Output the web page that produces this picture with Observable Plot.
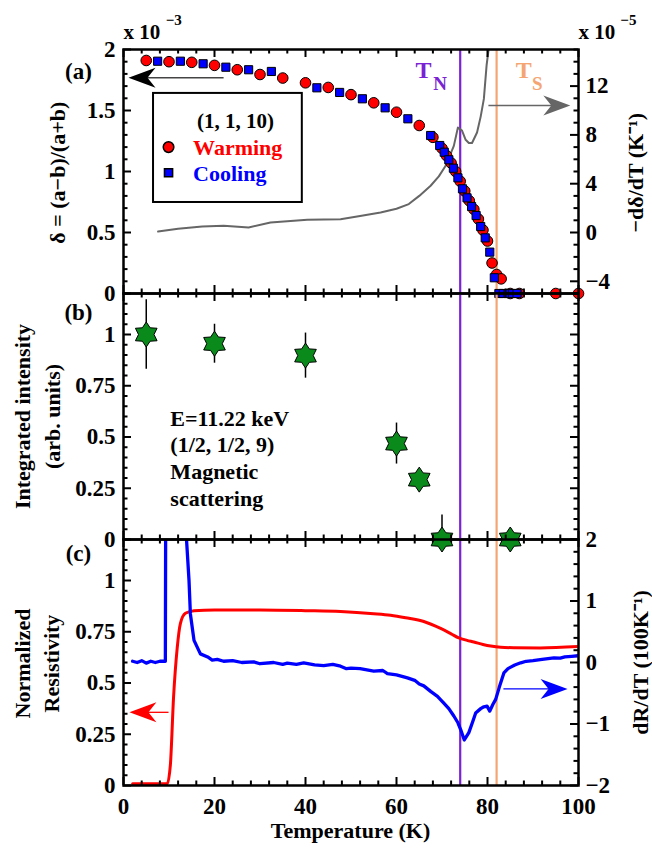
<!DOCTYPE html>
<html><head><meta charset="utf-8">
<script src="https://cdn.jsdelivr.net/npm/d3@7"></script>
<script src="https://cdn.jsdelivr.net/npm/@observablehq/plot@0.6"></script>
<style>
body{margin:0;background:#fff;}
#chart{position:relative;width:652px;height:848px;}
#chart svg{position:absolute;left:0;top:0;}
</style></head><body><div id="chart"></div>
<script>
// ---------- DATA ----------
// (a) orthorhombic distortion delta (x1e-3), warming and cooling
const warmT = [5,10,15,20,25,30,35,40,45,50,55,60,65,68,70,71,72,73,74,75,76,77,78,79,80,81,82,83,85,87,95,100];
const warmD = [1.91,1.90,1.895,1.87,1.834,1.795,1.766,1.727,1.689,1.63,1.563,1.486,1.377,1.28,1.19,1.13,1.07,1.0,0.92,0.84,0.76,0.69,0.61,0.52,0.43,0.25,0.156,0.12,0,0,0,0];
const coolT = [7.5,12.5,17.5,22.5,27.5,32.5,42.5,47.5,52.5,57.5,62.5,67.5,69.5,70.5,71.5,72.5,73.5,74.5,75.5,76.5,77.5,78.5,79.5,80.5,81.5,82.5,83.5,84.5,85.5,86.5];
const coolD = [1.904,1.904,1.883,1.855,1.834,1.82,1.686,1.648,1.596,1.522,1.432,1.295,1.213,1.158,1.096,1.027,0.948,0.858,0.784,0.713,0.639,0.549,0.456,0.339,0.129,0,0,0,0,0];
// (a) -d delta/dT (x1e-5 K^-1)
const derivT = [7.6,12,17.3,22,27.5,32.3,40.4,47.7,52,56.5,60,62.7,65,67.5,69.3,70.8,72.6,73.5,74.4,75.2,75.9,76.6,77.7,78.5,79.2,79.8,80.3,80.8];
const derivV = [0.08,0.3,0.5,0.55,0.41,0.82,1.04,1.09,1.35,1.64,1.95,2.33,3.0,3.83,4.6,5.47,7.1,8.6,8.35,7.6,7.34,7.34,8.2,9.5,10.95,13.7,15.2,18];
// (b) magnetic integrated intensity
const magT = [5,20,40,60,65,70,85];
const magI = [1.0,0.955,0.897,0.468,0.292,0,0];
const magErr = [0.17,0.095,0.11,0.1,0.03,0.12,0];
// (c) normalized resistivity
const resT = [2,9.6,10.3,11,11.8,12.5,13.6,15.5,20,30,40,47.7,55,58.7,62,66,69.7,72,73.7,75.5,77,79,80.7,82.9,86,91.6,100];
const resV = [0.008,0.008,0.1,0.43,0.67,0.79,0.84,0.853,0.856,0.856,0.853,0.849,0.838,0.83,0.818,0.8,0.766,0.74,0.72,0.708,0.7,0.688,0.68,0.674,0.672,0.671,0.678];
// (c) dR/dT (100 K^-1)
const dRT = [2,3,4,5,6,7,8,9.2,9.35,13.6,13.85,14.4,14.7,15.5,16.9,18.5,19.5,20.6,22,24,26,28.6,30,33,35,36,38,39.6,42,44,46,47.7,49,50,52,55,57,58,60,62.4,64,65,66,67.5,69,70.4,71.5,72.6,73.5,74.1,74.9,75.9,76.8,77.4,78.5,79.2,79.9,80.5,81.2,81.8,82.6,83.6,84.5,85,86,87.3,88.5,90,92,94.6,96,97,98.5,100];
const dRV = [0.02,0.0,0.03,-0.01,0.02,0.0,0.02,0.02,5,5,2.0,1.33,0.79,0.36,0.14,0.09,0.04,0.05,0.02,0.03,0.0,0.01,-0.02,0.0,-0.03,-0.01,-0.03,-0.005,-0.04,-0.05,-0.03,-0.06,-0.1,-0.09,-0.1,-0.14,-0.13,-0.18,-0.2,-0.25,-0.29,-0.35,-0.38,-0.47,-0.55,-0.66,-0.75,-0.87,-0.98,-1.09,-1.26,-1.14,-0.95,-0.82,-0.75,-0.72,-0.71,-0.79,-0.68,-0.6,-0.4,-0.17,-0.1,-0.08,-0.04,-0.005,0.02,0.03,0.05,0.075,0.07,0.09,0.1,0.11];
// transitions
const TN = 74, TS = 82;
// ticks
const xTicks = [0,20,40,60,80,100];
const yTicksA = [0,0.5,1,1.5,2];
const yTicksARight = [-4,0,4,8,12];
const yTicksB = [0,0.25,0.5,0.75,1];
const yTicksC = [0,0.25,0.5,0.75,1];
const yTicksCRight = [-2,-1,0,1,2];

// ---------- HELPERS ----------
const FONT = "'Liberation Serif','Times New Roman',serif";
const fmt = v => v < 0 ? "\u2212" + Math.abs(v) : String(v);
const steps = (a, n, s) => d3.range(n + 1).map(i => +(a + i * s).toFixed(6));
const notIn = (arr, majors) => arr.filter(v => !majors.some(m => Math.abs(m - v) < 1e-6));
// secondary-axis transforms
const aR = v => (v + 5) / 10;      // right axis (-5..15) -> left (0..2)
const cR = v => (v + 2) * 0.3;     // right axis (-2..2) -> left (0..1.2)

const hexagram = {draw(c, size) {
  const R = Math.sqrt(size / Math.PI), r = R * 0.62;
  for (let i = 0; i < 12; i++) {
    const a = i * Math.PI / 6 - Math.PI / 2, rad = i % 2 ? r : R;
    const x = rad * Math.cos(a), y = rad * Math.sin(a);
    i ? c.lineTo(x, y) : c.moveTo(x, y);
  }
  c.closePath();
}};
const headLeft = {draw(c, size) {
  const s = Math.sqrt(size / Math.PI);
  c.moveTo(0, 0); c.lineTo(2.7 * s, -s); c.lineTo(1.9 * s, 0); c.lineTo(2.7 * s, s); c.closePath();
}};
const headRight = {draw(c, size) {
  const s = Math.sqrt(size / Math.PI);
  c.moveTo(0, 0); c.lineTo(-2.7 * s, -s); c.lineTo(-1.9 * s, 0); c.lineTo(-2.7 * s, s); c.closePath();
}};

function frameTicks(H, W, xMaj, xMin, lMaj, lMin, rMaj, rMin) {
  const M = 8, m = 4.5, sw = 2;
  const id = d => d;
  return [
    Plot.tickX(xMaj, {x: id, insetTop: H - M, strokeWidth: sw}),
    Plot.tickX(xMaj, {x: id, insetBottom: H - M, strokeWidth: sw}),
    Plot.tickX(xMin, {x: id, insetTop: H - m, strokeWidth: sw}),
    Plot.tickX(xMin, {x: id, insetBottom: H - m, strokeWidth: sw}),
    Plot.tickY(lMaj, {y: id, insetRight: W - M, strokeWidth: sw}),
    Plot.tickY(lMin, {y: id, insetRight: W - m, strokeWidth: sw}),
    Plot.tickY(rMaj, {y: id, insetLeft: W - M, strokeWidth: sw}),
    Plot.tickY(rMin, {y: id, insetLeft: W - m, strokeWidth: sw}),
    Plot.frame({strokeWidth: 2.5})
  ];
}
const transitionLines = [
  Plot.ruleX([TN], {x: d => d, stroke: "#7b22d4", strokeWidth: 2.2}),
  Plot.ruleX([TS], {x: d => d, stroke: "#f5a572", strokeWidth: 2.2})
];

const WIDTH = 652, HEIGHT = 848, FW = 455;
const common = {
  width: WIDTH, height: HEIGHT, marginLeft: 123, marginRight: 74,
  style: {fontFamily: FONT, fontWeight: "bold", fontSize: "22px", background: "transparent", overflow: "visible", color: "black"}
};
const xMinor = notIn(steps(0, 25, 4), xTicks);
const T = v => () => v; // constant channel helper

// ---------- PANEL (a) ----------
const lMinA = notIn(steps(0, 20, 0.1), yTicksA);
const rMajA = yTicksARight.map(aR);
const rMinA = notIn(steps(-5, 20, 1).map(aR), rMajA);
const panelA = Plot.plot({
  ...common, marginTop: 49, marginBottom: HEIGHT - 293,
  x: {domain: [0, 100], axis: null},
  y: {domain: [0, 2], axis: null},
  marks: [
    ...transitionLines,
    Plot.line(derivT, {x: d => d, y: (d, i) => aR(derivV[i]), stroke: "#666", strokeWidth: 2, clip: true}),
    Plot.dot(warmT, {x: d => d, y: (d, i) => warmD[i], r: 5.3, fill: "#ff0000", stroke: "black", strokeWidth: 1}),
    Plot.dot(coolT, {x: d => d, y: (d, i) => coolD[i], r: 4.6, symbol: "square", fill: "#0000ff", stroke: "black", strokeWidth: 1}),
    // legend
    Plot.rect([0], {x1: T(6.6), x2: T(39.3), y1: T(0.746), y2: T(1.64), fill: "white", stroke: "black", strokeWidth: 2}),
    Plot.text(["(1, 1, 10)"], {text: d => d, x: T(24.6), y: T(1.41), fontSize: 21}),
    Plot.dot([0], {x: T(9.9), y: T(1.2), r: 5.3, fill: "#ff0000", stroke: "black"}),
    Plot.dot([0], {x: T(9.9), y: T(0.99), r: 4.6, symbol: "square", fill: "#0000ff", stroke: "black"}),
    Plot.text(["Warming"], {text: d => d, x: T(15.3), y: T(1.19), textAnchor: "start", fill: "#ff0000", fontSize: 22}),
    Plot.text(["Cooling"], {text: d => d, x: T(15.3), y: T(0.98), textAnchor: "start", fill: "#0000ff", fontSize: 22}),
    // arrows
    Plot.link([0], {x1: T(3), x2: T(22), y1: T(1.768), y2: T(1.768), stroke: "#444", strokeWidth: 1.5}),
    Plot.dot([0], {x: T(1.1), y: T(1.768), symbol: headLeft, r: 10, fill: "black"}),
    Plot.link([0], {x1: T(80.2), x2: T(96), y1: T(aR(10.4)), y2: T(aR(10.4)), stroke: "#666", strokeWidth: 1.5}),
    Plot.dot([0], {x: T(98.2), y: T(aR(10.4)), symbol: headRight, r: 10, fill: "#666"}),
    // T_N, T_S labels
    Plot.text(["T"], {text: d => d, x: T(64.2), y: T(1.828), textAnchor: "start", fill: "#7b22d4", fontSize: 24}),
    Plot.text(["N"], {text: d => d, x: T(68.1), y: T(1.72), textAnchor: "start", fill: "#7b22d4", fontSize: 19}),
    Plot.text(["T"], {text: d => d, x: T(86.2), y: T(1.828), textAnchor: "start", fill: "#f5a572", fontSize: 24}),
    Plot.text(["S"], {text: d => d, x: T(89.8), y: T(1.72), textAnchor: "start", fill: "#f5a572", fontSize: 19}),
    // exponent labels
    Plot.text(["x 10"], {text: d => d, x: T(0), y: T(2.14), textAnchor: "start", fontSize: 21}),
    Plot.text(["\u22123"], {text: d => d, x: T(9.3), y: T(2.24), textAnchor: "start", fontSize: 15}),
    Plot.text(["x 10"], {text: d => d, x: T(100), y: T(2.14), textAnchor: "start", fontSize: 21}),
    Plot.text(["\u22125"], {text: d => d, x: T(109.2), y: T(2.24), textAnchor: "start", fontSize: 15}),
    // panel label & axis titles
    Plot.text(["(a)"], {text: d => d, x: T(-9.9), y: T(1.82), fontSize: 23}),
    Plot.text(["\u03b4 = (a\u2212b)/(a+b)"], {text: d => d, x: T(-14.3), y: T(0.99), rotate: -90, fontSize: 22}),
    Plot.text(["\u2212d\u03b4/dT (K\u207b\u00b9)"], {text: d => d, x: T(112.7), y: T(0.99), rotate: -90, fontSize: 22}),
    // axes
    Plot.axisY(yTicksA, {anchor: "left", tickSize: 0, tickPadding: 8, fontSize: 23, label: null, tickFormat: fmt}),
    Plot.axisY(rMajA, {anchor: "right", tickSize: 0, tickPadding: 7, fontSize: 23, label: null, tickFormat: d => fmt(Math.round(d * 10 - 5))}),
    ...frameTicks(244, FW, xTicks, xMinor, yTicksA, lMinA, rMajA, rMinA)
  ]
});

// ---------- PANEL (b) ----------
const lMinB = notIn(steps(0, 24, 0.05), yTicksB);
const panelB = Plot.plot({
  ...common, marginTop: 293, marginBottom: HEIGHT - 539,
  x: {domain: [0, 100], axis: null},
  y: {domain: [0, 1.2], axis: null},
  marks: [
    ...transitionLines,
    Plot.ruleX(magT, {x: d => d, y1: (d, i) => magI[i] - magErr[i], y2: (d, i) => magI[i] + magErr[i], strokeWidth: 1.5, clip: true}),
    Plot.dot(magT, {x: d => d, y: (d, i) => magI[i], symbol: hexagram, r: 12.5, fill: "#0a8a1a", stroke: "black", strokeWidth: 1}),
    Plot.text(["E=11.22 keV", "(1/2, 1/2, 9)", "Magnetic", "scattering"], {text: d => d, x: T(10.3), y: (d, i) => [0.59, 0.46, 0.33, 0.2][i], textAnchor: "start", fontSize: 22}),
    Plot.text(["(b)"], {text: d => d, x: T(-9.9), y: T(1.106), fontSize: 23}),
    Plot.text(["Integrated intensity"], {text: d => d, x: T(-22), y: T(0.6), rotate: -90, fontSize: 22}),
    Plot.text(["(arb. units)"], {text: d => d, x: T(-15.6), y: T(0.6), rotate: -90, fontSize: 22}),
    Plot.axisY(yTicksB, {anchor: "left", tickSize: 0, tickPadding: 8, fontSize: 23, label: null, tickFormat: fmt}),
    ...frameTicks(246, FW, xTicks, xMinor, yTicksB, lMinB, yTicksB, lMinB)
  ]
});

// ---------- PANEL (c) ----------
const lMinC = notIn(steps(0, 24, 0.05), yTicksC);
const rMajC = yTicksCRight.map(cR);
const rMinC = notIn(steps(-2, 20, 0.2).map(cR), rMajC);
const panelC = Plot.plot({
  ...common, marginTop: 539, marginBottom: HEIGHT - 785,
  x: {domain: [0, 100], axis: null},
  y: {domain: [0, 1.2], axis: null},
  marks: [
    ...transitionLines,
    Plot.line(resT, {x: d => d, y: (d, i) => resV[i], stroke: "#ff0000", strokeWidth: 3, curve: "monotone-x", clip: true}),
    Plot.line(dRT, {x: d => d, y: (d, i) => cR(dRV[i]), stroke: "#0000ff", strokeWidth: 3.3, clip: true}),
    Plot.link([0], {x1: T(3), x2: T(9.9), y1: T(0.357), y2: T(0.357), stroke: "#ff0000", strokeWidth: 1.3}),
    Plot.dot([0], {x: T(1.3), y: T(0.357), symbol: headLeft, r: 10, fill: "#ff0000"}),
    Plot.link([0], {x1: T(83.5), x2: T(95.5), y1: T(cR(-0.43)), y2: T(cR(-0.43)), stroke: "#0000ff", strokeWidth: 1.3}),
    Plot.dot([0], {x: T(97.6), y: T(cR(-0.43)), symbol: headRight, r: 10, fill: "#0000ff"}),
    Plot.text(["(c)"], {text: d => d, x: T(-9.9), y: T(1.13), fontSize: 23}),
    Plot.text(["Normalized"], {text: d => d, x: T(-22), y: T(0.595), rotate: -90, fontSize: 22}),
    Plot.text(["Resistivity"], {text: d => d, x: T(-15.8), y: T(0.595), rotate: -90, fontSize: 22}),
    Plot.text(["dR/dT (100K\u207b\u00b9)"], {text: d => d, x: T(113.8), y: T(0.6), rotate: -90, fontSize: 22}),
    Plot.text(["Temperature (K)"], {text: d => d, x: T(49.9), y: T(-0.22), fontSize: 22}),
    Plot.axisX(xTicks, {anchor: "bottom", tickSize: 0, tickPadding: 12, fontSize: 23, label: null, tickFormat: fmt}),
    Plot.axisY(yTicksC, {anchor: "left", tickSize: 0, tickPadding: 8, fontSize: 23, label: null, tickFormat: fmt}),
    Plot.axisY(rMajC, {anchor: "right", tickSize: 0, tickPadding: 7, fontSize: 23, label: null, tickFormat: d => fmt(Math.round(d / 0.3 - 2))}),
    ...frameTicks(246, FW, xTicks, xMinor, yTicksC, lMinC, rMajC, rMinC)
  ]
});

const chart = document.getElementById("chart");
chart.append(panelC, panelA, panelB);
</script>
</body></html>
